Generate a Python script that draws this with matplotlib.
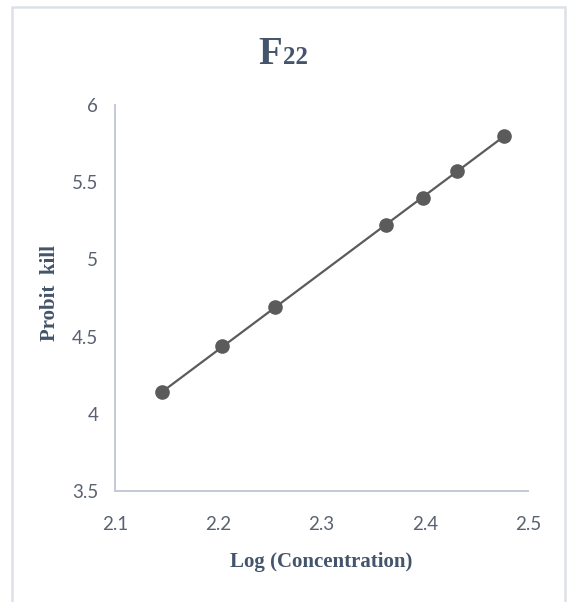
import numpy as np
import matplotlib
matplotlib.use("Agg")
import matplotlib.pyplot as plt
from matplotlib.patches import Rectangle

# data: log10 of concentrations vs probit kill
log_conc = [2.146, 2.204, 2.255, 2.362, 2.398, 2.431, 2.477]
probit = [4.14, 4.44, 4.69, 5.22, 5.40, 5.57, 5.80]
x_ticks = [2.1, 2.2, 2.3, 2.4, 2.5]
y_ticks = [3.5, 4, 4.5, 5, 5.5, 6]
x_tick_labels = ["2.1", "2.2", "2.3", "2.4", "2.5"]
y_tick_labels = ["3.5", "4", "4.5", "5", "5.5", "6"]

TEXT_C = "#44546A"
TICK_C = "#5A6272"
MARK_C = "#5B5B5B"
SPINE_C = "#C3CAD5"

fig = plt.figure(figsize=(5.68, 6.02), dpi=100)
ax = fig.add_axes([115 / 568, 1 - 491 / 602, 413 / 568, 386 / 602])

# linear trendline over the data range
slope, icept = np.polyfit(log_conc, probit, 1)
xl = np.array([min(log_conc), max(log_conc)])
ax.plot(xl, slope * xl + icept, color=MARK_C, lw=1.6, zorder=2)
ax.plot(log_conc, probit, "o", color=MARK_C, ms=9.5, zorder=3)

ax.set_xlim(2.1, 2.5)
ax.set_ylim(3.5, 6)
ax.set_xticks(x_ticks, x_tick_labels)
ax.set_yticks(y_ticks, y_tick_labels)
ax.tick_params(length=0, labelsize=13.5, labelcolor=TICK_C)
ax.tick_params(axis="x", pad=18)
ax.tick_params(axis="y", pad=12)
for lab in ax.get_xticklabels() + ax.get_yticklabels():
    lab.set_family("Lato")

for s in ["top", "right"]:
    ax.spines[s].set_visible(False)
for s in ["left", "bottom"]:
    ax.spines[s].set_color(SPINE_C)
    ax.spines[s].set_linewidth(1.4)

serif = "Liberation Serif"
ax.set_xlabel("Log (Concentration)", family=serif, weight="bold", fontsize=15,
              color=TEXT_C, labelpad=14)
fig.text(50 / 568, 1 - 293 / 602, "Probit  kill", family=serif, weight="bold",
         fontsize=15, color=TEXT_C, rotation=90, ha="center", va="center")

# title "F22" with smaller digits
fig.text(282 / 568, 1 - 64 / 602, "F", family=serif, weight="bold", fontsize=28,
         color=TEXT_C, ha="right", va="baseline")
fig.text(283 / 568, 1 - 64 / 602, "22", family=serif, weight="bold", fontsize=18,
         color=TEXT_C, ha="left", va="baseline")

# chart border
fig.patches.append(Rectangle((12 / 568, -0.05), 553 / 568, 1.05 - 7 / 602,
                             transform=fig.transFigure, fill=False,
                             edgecolor="#DDE1E7", lw=1.8))

fig.savefig("out.png", dpi=100)
